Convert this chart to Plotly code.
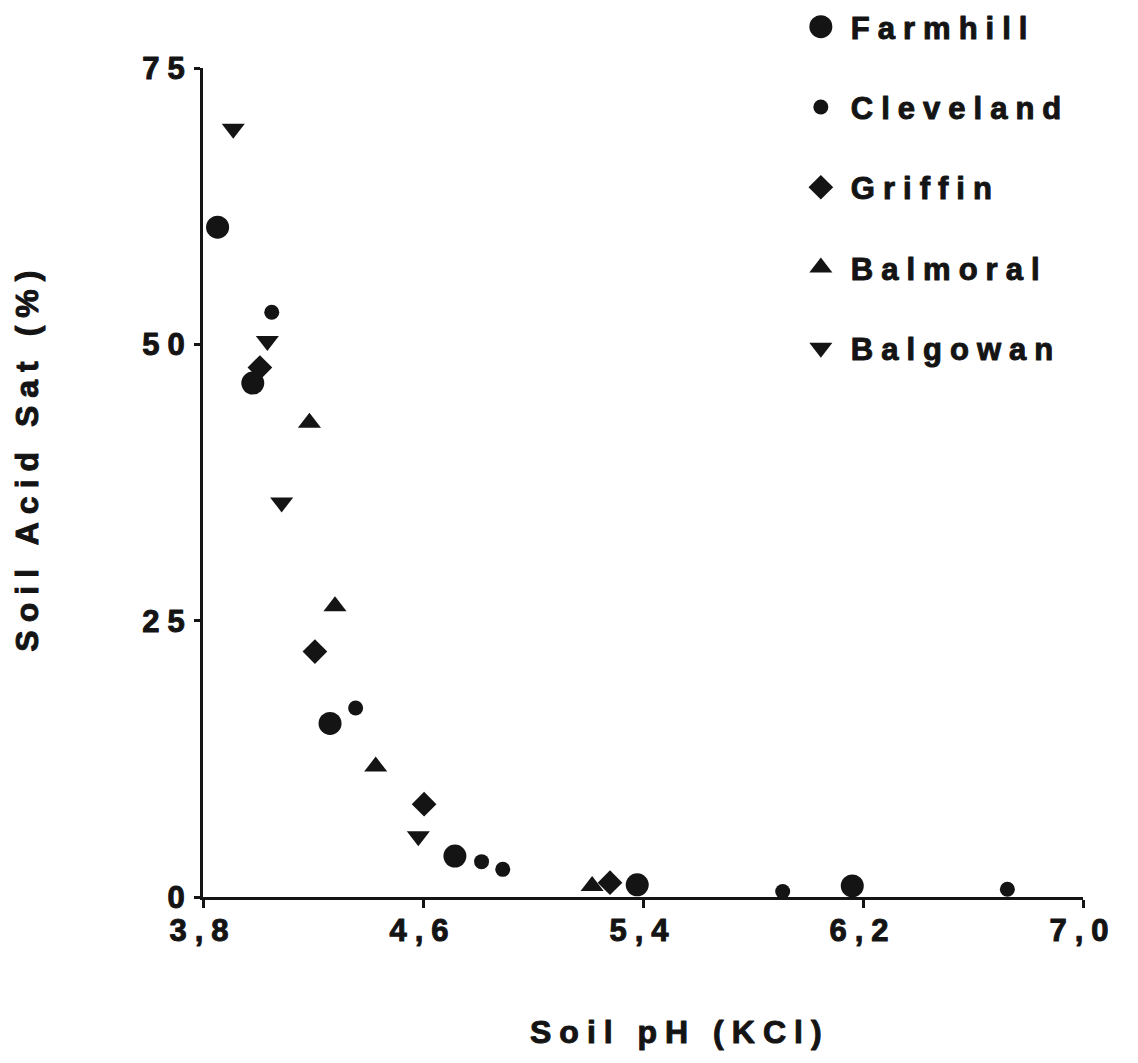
import json
import plotly.graph_objects as go

# Soil pH (KCl) and acid saturation (%) for each site
farmhill_ph = [3.853, 3.981, 4.262, 4.716, 5.379, 6.161]
farmhill_sat = [60.6, 46.5, 15.7, 3.7, 1.1, 1.0]

cleveland_ph = [4.050, 4.355, 4.813, 4.890, 5.908, 6.725]
cleveland_sat = [52.9, 17.1, 3.2, 2.5, 0.5, 0.7]

griffin_ph = [4.007, 4.207, 4.604, 5.280]
griffin_sat = [47.9, 22.2, 8.4, 1.3]

balmoral_ph = [4.187, 4.280, 4.428, 5.215]
balmoral_sat = [42.9, 26.3, 11.8, 1.0]

balgowan_ph = [3.910, 4.034, 4.086, 4.583]
balgowan_sat = [69.5, 50.3, 35.7, 5.5]

x_ticks = [3.8, 4.6, 5.4, 6.2, 7.0]
y_ticks = [0, 25, 50, 75]

FONT = "Liberation Sans, Arial, sans-serif"
INK = "#141414"

series = [
    ("Farmhill", farmhill_ph, farmhill_sat, "circle", 23),
    ("Cleveland", cleveland_ph, cleveland_sat, "circle", 15),
    ("Griffin", griffin_ph, griffin_sat, "diamond", 19),
    ("Balmoral", balmoral_ph, balmoral_sat, "triangle-up", 20),
    ("Balgowan", balgowan_ph, balgowan_sat, "triangle-down", 20),
]

fig = go.Figure()
for name, xs, ys, sym, size in series:
    fig.add_trace(go.Scatter(
        x=xs, y=ys, name=name, mode="markers", legendgroup=name,
        marker=dict(symbol=sym, size=size, color=INK, line=dict(width=0)),
        cliponaxis=False,
    ))

axis_common = dict(
    showgrid=False, zeroline=False, showline=True, linecolor=INK, linewidth=3,
    ticks="outside", tickcolor=INK, tickwidth=3,
    tickfont=dict(family=FONT, size=31, color=INK, weight="bold"),
)

fig.update_layout(
    width=1138, height=1063,
    margin=dict(l=203, r=55, t=68, b=166, autoexpand=False),
    paper_bgcolor="white", plot_bgcolor="white",
    separators=",.",
    showlegend=True,
    legend=dict(
        x=0.668, y=1.082, xanchor="left", yanchor="top",
        font=dict(family=FONT, size=31, color=INK, weight="bold"),
        tracegroupgap=37, itemwidth=50, bgcolor="rgba(0,0,0,0)",
    ),
    xaxis=dict(axis_common, range=[3.8, 7.0], tickvals=x_ticks,
               tickformat=".1f", ticklen=8, ticklabelstandoff=-4),
    yaxis=dict(axis_common, range=[0, 75], tickvals=y_ticks,
               ticklen=6, ticklabelstandoff=-5),
    annotations=[
        dict(text="Soil pH (KCl)", xref="paper", yref="paper",
             x=0.542, y=-0.163, xanchor="center", yanchor="middle",
             showarrow=False,
             font=dict(family=FONT, size=32, color=INK, weight="bold")),
        dict(text="Soil Acid Sat (%)", xref="paper", yref="paper",
             x=-0.2, y=0.53, xanchor="center", yanchor="middle",
             textangle=-90, showarrow=False,
             font=dict(family=FONT, size=32, color=INK, weight="bold")),
    ],
)

# plotly caps legend symbols at 16 px; scale them back up to the trace size
legend_scale = [size / min(size, 16) for *_, size in series]

# widen and thicken all lettering, unclip the legend and enlarge its symbols
post_js = (
    "var gd=document.getElementById('{plot_id}');"
    "gd.querySelectorAll('text').forEach(function(t){"
    "t.style.letterSpacing='8px';"
    "t.style.stroke='" + INK + "';t.style.strokeWidth='1px';"
    "t.style.strokeLinejoin='round';});"
    "gd.querySelectorAll('.legend [clip-path]').forEach(function(e){"
    "e.removeAttribute('clip-path');});"
    "var f=" + json.dumps(legend_scale) + ";"
    "gd.querySelectorAll('.legend .traces').forEach(function(g,i){"
    "g.querySelectorAll('.legendpoints path').forEach(function(p){"
    "var tr=p.getAttribute('transform')||'';"
    "p.setAttribute('transform',tr+' scale('+f[i]+')');});});"
)

fig.write_html("out.html", post_script=post_js)
